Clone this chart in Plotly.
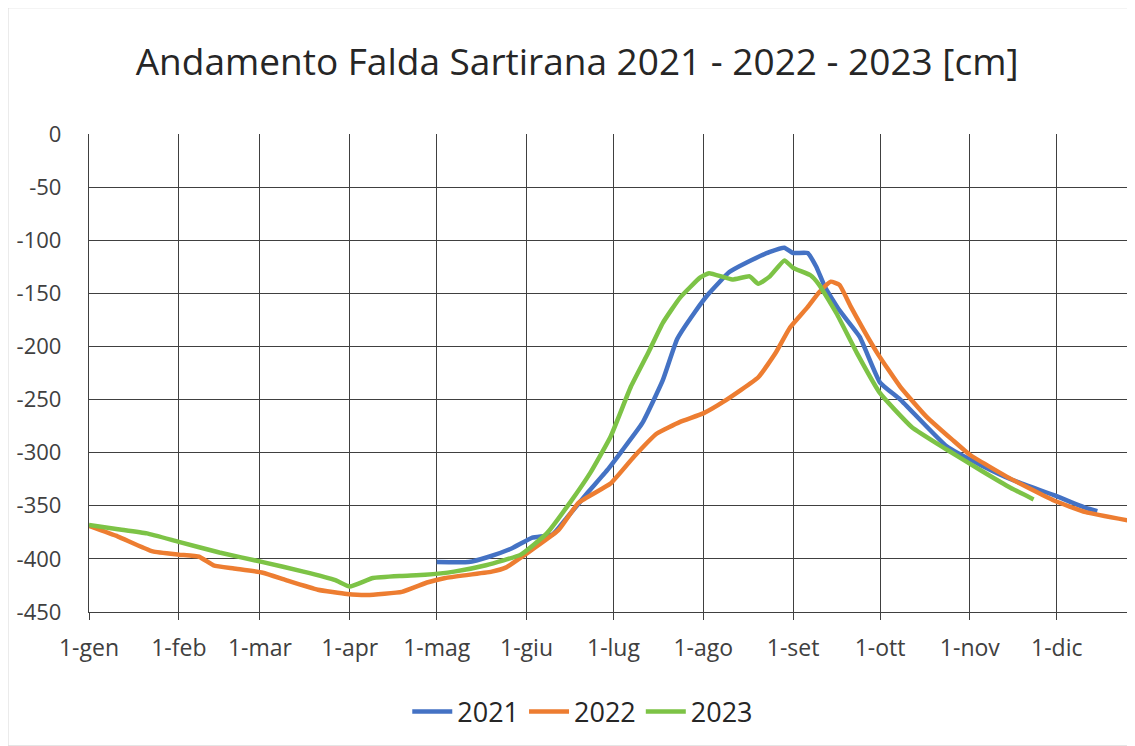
import plotly.graph_objects as go

# Day of year (0 = 1 January) and water table level [cm]
month_days = [0, 31, 59, 90, 120, 151, 181, 212, 243, 273, 304, 334]
month_labels = ["1-gen", "1-feb", "1-mar", "1-apr", "1-mag", "1-giu",
                "1-lug", "1-ago", "1-set", "1-ott", "1-nov", "1-dic"]
y_ticks = [0, -50, -100, -150, -200, -250, -300, -350, -400, -450]
y_tick_labels = ["0", "-50", "-100", "-150", "-200", "-250", "-300", "-350", "-400", "-450"]

days_2021 = [120, 131, 138, 146, 153, 160, 165, 172, 179, 184, 191, 198, 203, 209,
             214, 221, 227, 235, 240, 243, 248, 251, 254, 259, 266, 273, 280, 296,
             308, 319, 333, 344, 348]
vals_2021 = [-403, -403, -398, -390, -380, -377, -361, -338, -316, -298, -272, -232, -193, -168,
             -150, -130, -121, -111, -107, -112, -112, -125, -144, -166, -191, -234, -250, -294,
             -312, -326, -340, -352, -355]

days_2022 = [0, 10, 22, 31, 38, 43, 50, 60, 68, 79, 89, 96, 108, 117, 123, 139, 144,
             151, 162, 169, 180, 188, 196, 204, 212, 219, 231, 237, 242, 248, 252, 256,
             259, 263, 272, 280, 289, 298, 304, 317, 333, 344, 361]
vals_2022 = [-369, -379, -393, -396, -398, -406, -409, -413, -420, -429, -433, -434, -431, -422, -418, -412, -408,
             -395, -373, -347, -329, -304, -282, -271, -263, -252, -229, -206, -182, -163, -149, -139,
             -142, -163, -206, -238, -266, -288, -302, -323, -345, -356, -365]

days_2023 = [0, 10, 20, 31, 45, 60, 74, 85, 90, 98, 108, 116, 126, 137, 149, 158, 166,
             173, 180, 187, 193, 198, 204, 211, 214, 222, 228, 231, 235, 240, 243, 249,
             252, 258, 265, 273, 284, 296, 308, 318, 326]
vals_2023 = [-368, -372, -376, -384, -394, -403, -412, -420, -426, -418, -416, -415, -412, -406, -396, -376, -347,
             -319, -285, -238, -206, -178, -154, -135, -131, -137, -134, -141, -134, -119, -126, -133,
             -142, -169, -206, -244, -276, -297, -317, -333, -344]

fig = go.Figure()
for name, xs, ys, col in [("2021", days_2021, vals_2021, "#4472C4"),
                          ("2022", days_2022, vals_2022, "#ED7D31"),
                          ("2023", days_2023, vals_2023, "#7DC346")]:
    fig.add_trace(go.Scatter(x=xs, y=ys, mode="lines", name=name,
                             line=dict(color=col, width=4.5, shape="spline", smoothing=0.4)))

fig.update_layout(
    width=1127, height=738,
    margin=dict(l=81, r=0, t=126, b=134),
    paper_bgcolor="white", plot_bgcolor="white",
    font=dict(family="Open Sans, Noto Sans, sans-serif", size=22, color="#404040"),
    title=dict(text="Andamento Falda Sartirana 2021 - 2022 - 2023 [cm]",
               x=0.505, xref="container", xanchor="center", y=0.927, yanchor="middle",
               font=dict(size=37, color="#262626")),
    legend=dict(orientation="h", x=0.51, xref="container", xanchor="center",
                y=0.046, yref="container", yanchor="middle",
                font=dict(size=27, color="#262626"), itemwidth=40, tracegroupgap=0),
    showlegend=True,
)
fig.update_xaxes(range=[0, 361], tickmode="array", tickvals=month_days, ticktext=month_labels,
                 showgrid=True, gridcolor="#404040", gridwidth=1.3,
                 showline=True, linecolor="#404040", linewidth=1.3,
                 ticks="outside", ticklen=7, tickcolor="#404040", tickwidth=1.3,
                 ticklabelstandoff=8, tickfont=dict(size=23),
                 zeroline=False, fixedrange=True)
fig.update_yaxes(range=[-450, 0], tickmode="array", tickvals=y_ticks, ticktext=y_tick_labels,
                 showgrid=True, gridcolor="#404040", gridwidth=1.3,
                 showline=True, linecolor="#404040", linewidth=1.3,
                 ticks="", ticklabelstandoff=22,
                 zeroline=False, fixedrange=True)
fig.add_shape(type="rect", xref="paper", yref="paper",
              x0=-0.0774, x1=1.05, y0=-0.280, y1=1.264,
              line=dict(color="#d9d9d9", width=1), layer="below")
fig.write_html("out.html")
